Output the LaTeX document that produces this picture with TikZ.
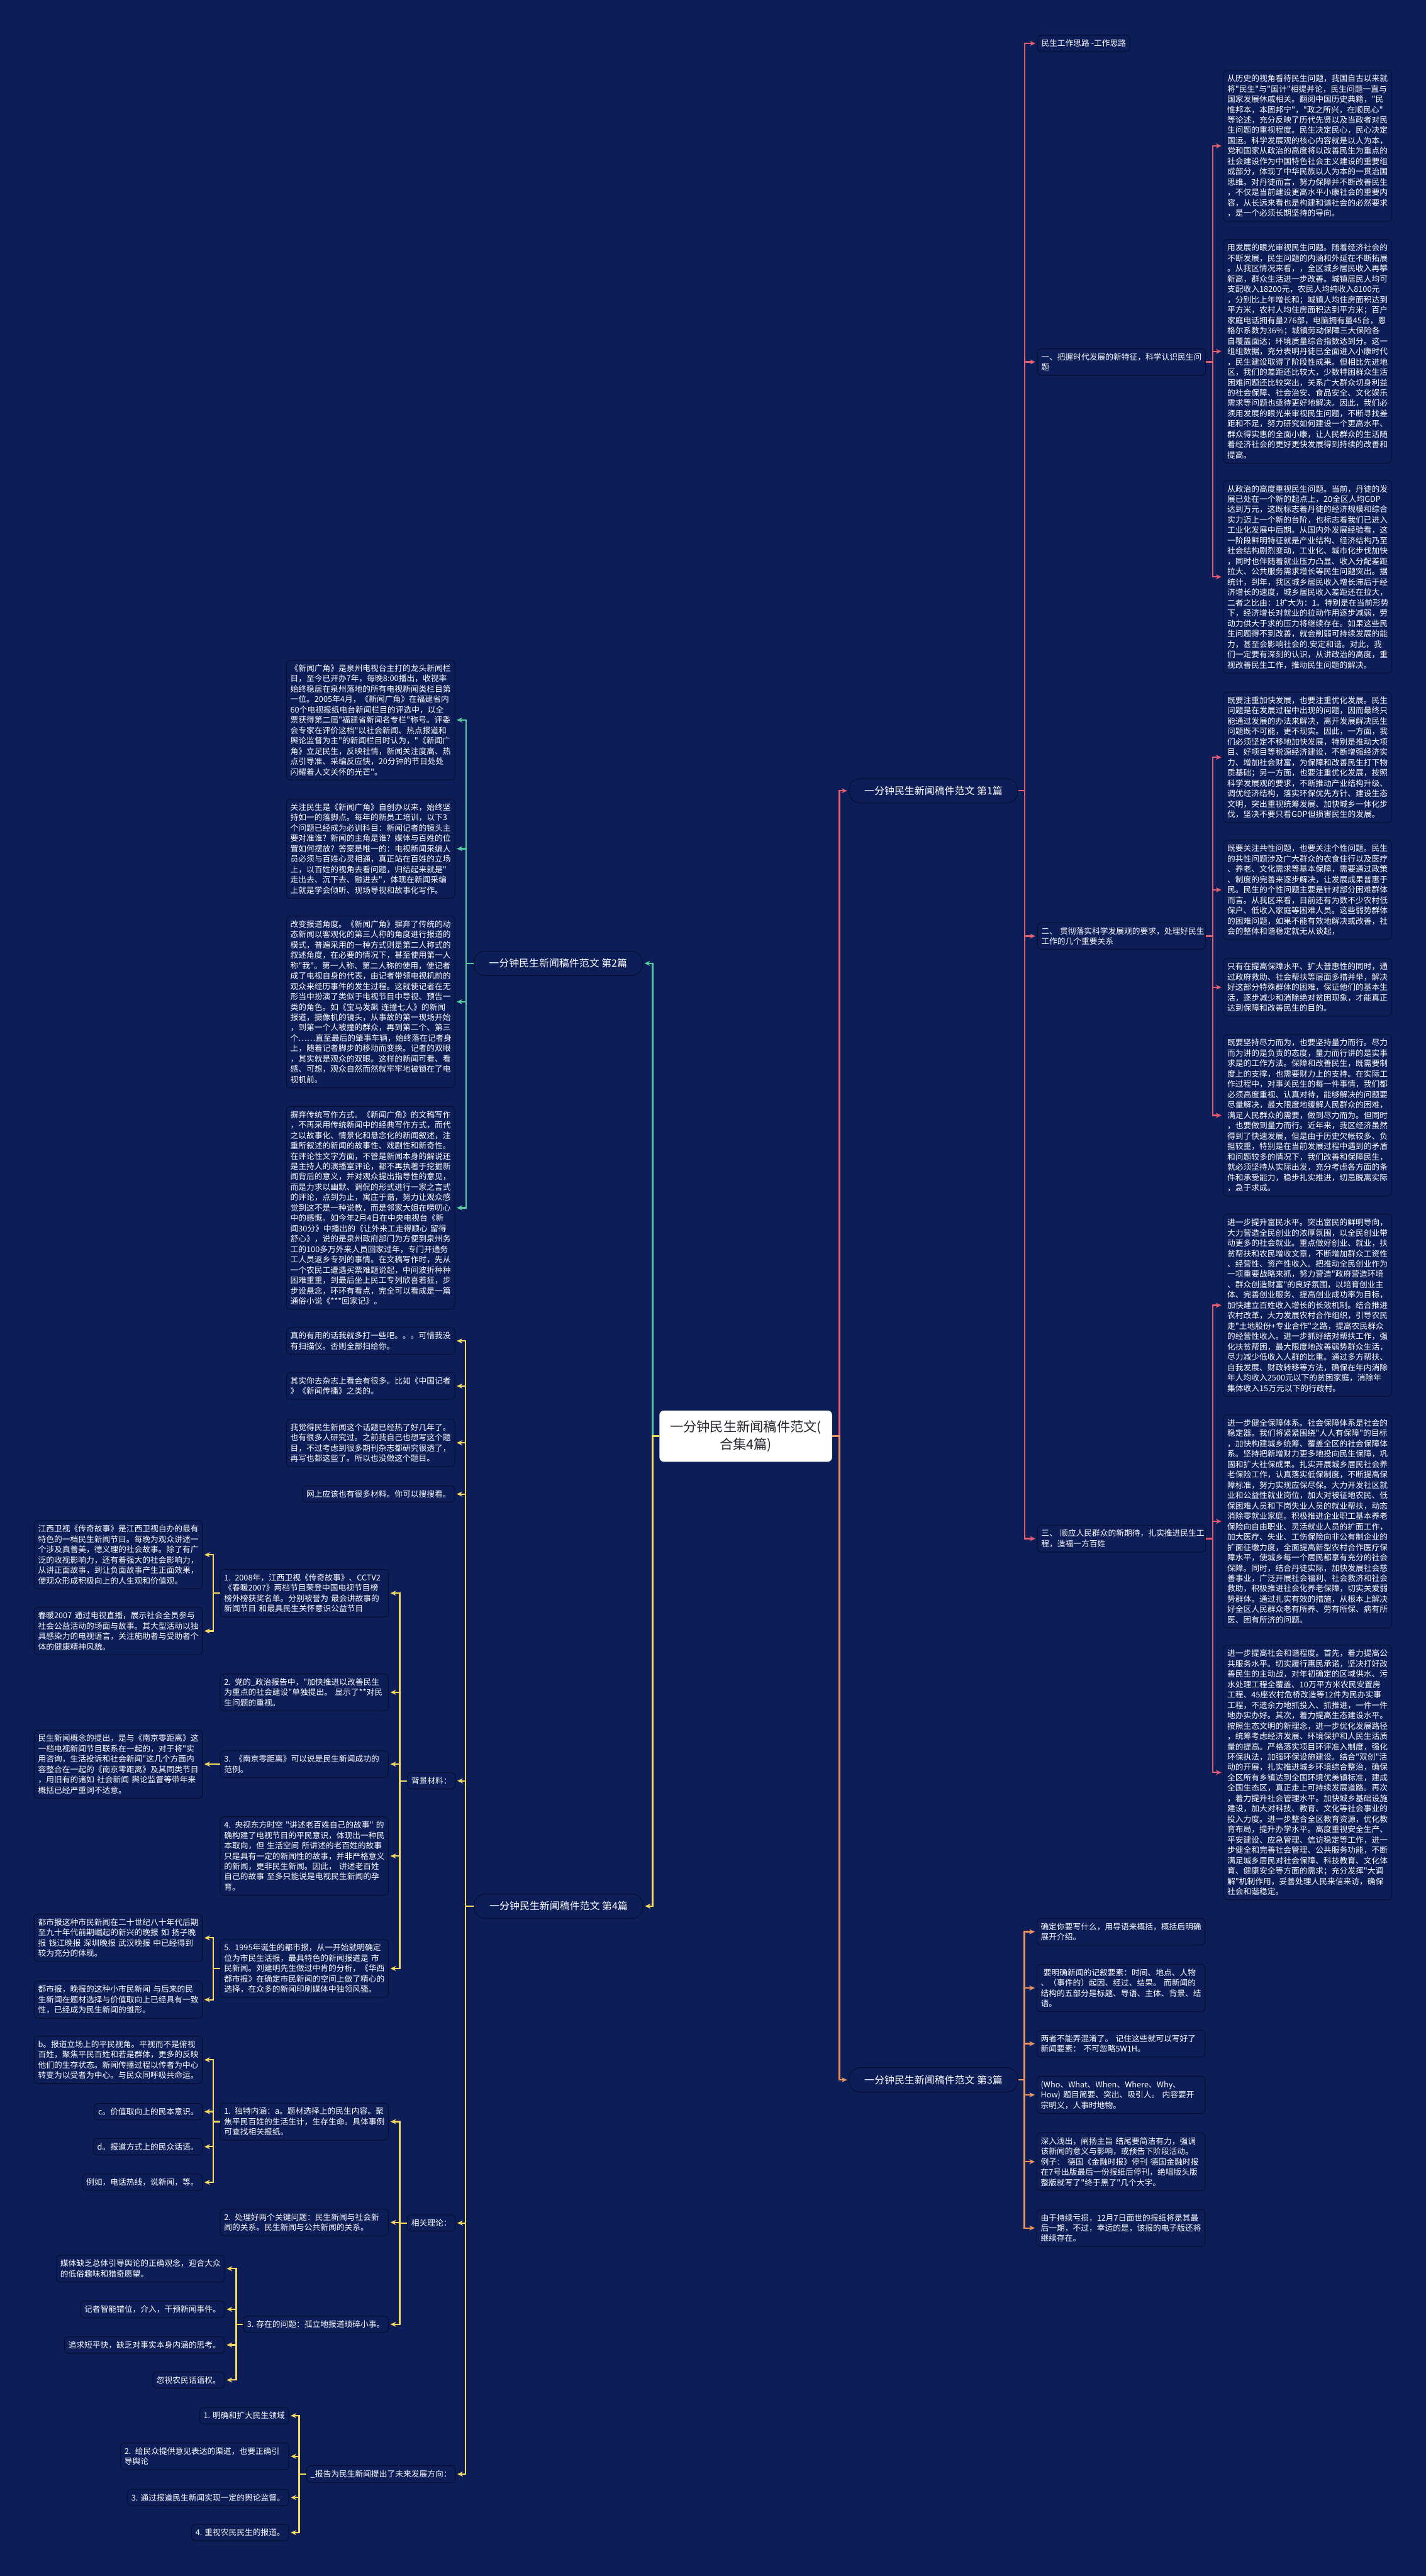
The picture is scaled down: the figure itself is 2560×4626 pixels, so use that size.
\documentclass[tikz,border=0pt]{standalone}
\usepackage{fontspec}
\usetikzlibrary{arrows.meta}
\newfontfamily\cnfont{Noto Sans CJK SC}
\definecolor{cBg}{RGB}{12,29,88}
\definecolor{cEdge}{RGB}{6,14,48}
\definecolor{cPink}{RGB}{229,92,110}
\definecolor{cOrange}{RGB}{236,148,92}
\definecolor{cTeal}{RGB}{86,206,160}
\definecolor{cYellow}{RGB}{246,218,96}
\definecolor{cHubText}{RGB}{40,40,48}

\begin{document}
\begin{tikzpicture}[x=1pt, y=-1pt,
  card/.style={draw=cEdge, line width=1.2pt, fill=cBg, rounded corners=7pt, text=white,
    font=\cnfont\fontsize{14.4}{18.6}\selectfont, inner xsep=7pt, inner ysep=8pt, align=left},
  txt/.style={card, text width=288pt},
  leaf/.style={card},
  topic/.style={card, rounded corners=20pt, font=\cnfont\fontsize{18}{22}\selectfont,
    minimum height=44pt, minimum width=303pt, inner xsep=20pt, align=center},
  hub/.style={fill=white, rounded corners=8pt, text=cHubText, font=\cnfont\fontsize{24}{32}\selectfont,
    align=center, minimum width=310pt, minimum height=92pt},
  link/.style={line width=2.5pt, -{Stealth[length=10pt,width=9pt]}, shorten >=3pt}]
\useasboundingbox (0,0) rectangle (2560,4626);
\fill[cBg] (0,0) rectangle (2560,4626);

\node[hub] (hub) at (1339,2579) {一分钟民生新闻稿件范文(\\合集4篇)};

\node[topic] (s1) at (1676,1420) {一分钟民生新闻稿件范文 第1篇};
\node[topic] (s2) at (1002,1730) {一分钟民生新闻稿件范文 第2篇};
\node[topic] (s3) at (1676,3735) {一分钟民生新闻稿件范文 第3篇};
\node[topic] (s4) at (1003,3423) {一分钟民生新闻稿件范文 第4篇};

\node[leaf, anchor=west] (t0) at (1862,78) {民生工作思路 -工作思路};
\node[txt, anchor=west] (t1) at (1862,650) {一、把握时代发展的新特征，科学认识民生问\\题};
\node[txt, anchor=west] (t2) at (1862,1681) {二、 贯彻落实科学发展观的要求，处理好民生\\工作的几个重要关系};
\node[txt, anchor=west] (t3) at (1862,2763) {三、 顺应人民群众的新期待，扎实推进民生工\\程，造福一方百姓};

\node[txt, anchor=west] (r1) at (2196,262) {从历史的视角看待民生问题，我国自古以来就\\将"民生"与"国计"相提并论，民生问题一直与\\国家发展休戚相关。翻阅中国历史典籍，"民\\惟邦本，本固邦宁"，"政之所兴，在顺民心"\\等论述，充分反映了历代先贤以及当政者对民\\生问题的重视程度。民生决定民心，民心决定\\国运。科学发展观的核心内容就是以人为本，\\党和国家从政治的高度将以改善民生为重点的\\社会建设作为中国特色社会主义建设的重要组\\成部分，体现了中华民族以人为本的一贯治国\\思维。对丹徒而言，努力保障并不断改善民生\\，不仅是当前建设更高水平小康社会的重要内\\容，从长远来看也是构建和谐社会的必然要求\\，是一个必须长期坚持的导向。};
\node[txt, anchor=west] (r2) at (2196,631) {用发展的眼光审视民生问题。随着经济社会的\\不断发展，民生问题的内涵和外延在不断拓展\\。从我区情况来看，，全区城乡居民收入再攀\\新高，群众生活进一步改善。城镇居民人均可\\支配收入18200元，农民人均纯收入8100元\\，分别比上年增长和；城镇人均住房面积达到\\平方米，农村人均住房面积达到平方米；百户\\家庭电话拥有量276部，电脑拥有量45台，恩\\格尔系数为36\%；城镇劳动保障三大保险各\\自覆盖面达；环境质量综合指数达到分。这一\\组组数据，充分表明丹徒已全面进入小康时代\\，民生建设取得了阶段性成果。但相比先进地\\区，我们的差距还比较大，少数特困群众生活\\困难问题还比较突出，关系广大群众切身利益\\的社会保障、社会治安、食品安全、文化娱乐\\需求等问题也亟待更好地解决。因此，我们必\\须用发展的眼光来审视民生问题，不断寻找差\\距和不足，努力研究如何建设一个更高水平、\\群众得实惠的全面小康，让人民群众的生活随\\着经济社会的更好更快发展得到持续的改善和\\提高。};
\node[txt, anchor=west] (r3) at (2196,1036) {从政治的高度重视民生问题。当前，丹徒的发\\展已处在一个新的起点上，20全区人均GDP\\达到万元，这既标志着丹徒的经济规模和综合\\实力迈上一个新的台阶，也标志着我们已进入\\工业化发展中后期。从国内外发展经验看，这\\一阶段鲜明特征就是产业结构、经济结构乃至\\社会结构剧烈变动，工业化、城市化步伐加快\\，同时也伴随着就业压力凸显、收入分配差距\\拉大、公共服务需求增长等民生问题突出。据\\统计，到年，我区城乡居民收入增长滞后于经\\济增长的速度，城乡居民收入差距还在拉大，\\二者之比由：1扩大为：1。特别是在当前形势\\下，经济增长对就业的拉动作用逐步减弱，劳\\动力供大于求的压力将继续存在。如果这些民\\生问题得不到改善，就会削弱可持续发展的能\\力，甚至会影响社会的.安定和谐。对此，我\\们一定要有深刻的认识，从讲政治的高度，重\\视改善民生工作，推动民生问题的解决。};
\node[txt, anchor=west] (r4) at (2196,1360) {既要注重加快发展，也要注重优化发展。民生\\问题是在发展过程中出现的问题，因而最终只\\能通过发展的办法来解决，离开发展解决民生\\问题既不可能，更不现实。因此，一方面，我\\们必须坚定不移地加快发展，特别是推动大项\\目、好项目等税源经济建设，不断增强经济实\\力、增加社会财富，为保障和改善民生打下物\\质基础；另一方面，也要注重优化发展，按照\\科学发展观的要求，不断推动产业结构升级、\\调优经济结构，落实环保优先方针、建设生态\\文明，突出重视统筹发展、加快城乡一体化步\\伐，坚决不要只看GDP但损害民生的发展。};
\node[txt, anchor=west] (r5) at (2196,1598) {既要关注共性问题，也要关注个性问题。民生\\的共性问题涉及广大群众的衣食住行以及医疗\\、养老、文化需求等基本保障，需要通过政策\\、制度的完善来逐步解决，让发展成果普惠于\\民。民生的个性问题主要是针对部分困难群体\\而言。从我区来看，目前还有为数不少农村低\\保户、低收入家庭等困难人员。这些弱势群体\\的困难问题，如果不能有效地解决或改善，社\\会的整体和谐稳定就无从谈起，};
\node[txt, anchor=west] (r6) at (2196,1773) {只有在提高保障水平、扩大普惠性的同时，通\\过政府救助、社会帮扶等层面多措并举，解决\\好这部分特殊群体的困难，保证他们的基本生\\活，逐步减少和消除绝对贫困现象，才能真正\\达到保障和改善民生的目的。};
\node[txt, anchor=west] (r7) at (2196,2003) {既要坚持尽力而为，也要坚持量力而行。尽力\\而为讲的是负责的态度，量力而行讲的是实事\\求是的工作方法。保障和改善民生，既需要制\\度上的支撑，也需要财力上的支持。在实际工\\作过程中，对事关民生的每一件事情，我们都\\必须高度重视、认真对待，能够解决的问题要\\尽量解决，最大限度地缓解人民群众的困难，\\满足人民群众的需要，做到尽力而为。但同时\\，也要做到量力而行。近年来，我区经济虽然\\得到了快速发展，但是由于历史欠帐较多、负\\担较重，特别是在当前发展过程中遇到的矛盾\\和问题较多的情况下，我们改善和保障民生，\\就必须坚持从实际出发，充分考虑各方面的条\\件和承受能力，稳步扎实推进，切忌脱离实际\\，急于求成。};
\node[txt, anchor=west] (r8) at (2196,2344) {进一步提升富民水平。突出富民的鲜明导向，\\大力营造全民创业的浓厚氛围，以全民创业带\\动更多的社会就业。重点做好创业、就业，扶\\贫帮扶和农民增收文章，不断增加群众工资性\\、经营性、资产性收入。把推动全民创业作为\\一项重要战略来抓，努力营造"政府营造环境\\、群众创造财富"的良好氛围，以培育创业主\\体、完善创业服务、提高创业成功率为目标，\\加快建立百姓收入增长的长效机制。结合推进\\农村改革，大力发展农村合作组织，引导农民\\走"土地股份+专业合作"之路，提高农民群众\\的经营性收入。进一步抓好结对帮扶工作，强\\化扶贫帮困，最大限度地改善弱势群众生活，\\尽力减少低收入人群的比重。通过多方帮扶、\\自我发展、财政转移等方法，确保在年内消除\\年人均收入2500元以下的贫困家庭，消除年\\集体收入15万元以下的行政村。};
\node[txt, anchor=west] (r9) at (2196,2732) {进一步健全保障体系。社会保障体系是社会的\\稳定器。我们将紧紧围绕"人人有保障"的目标\\，加快构建城乡统筹、覆盖全区的社会保障体\\系。坚持把新增财力更多地投向民生保障，巩\\固和扩大社保成果。扎实开展城乡居民社会养\\老保险工作，认真落实低保制度，不断提高保\\障标准，努力实现应保尽保。大力开发社区就\\业和公益性就业岗位，加大对被征地农民、低\\保困难人员和下岗失业人员的就业帮扶，动态\\消除零就业家庭。积极推进企业职工基本养老\\保险向自由职业、灵活就业人员的扩面工作，\\加大医疗、失业、工伤保险向非公有制企业的\\扩面征缴力度，全面提高新型农村合作医疗保\\障水平，使城乡每一个居民都享有充分的社会\\保障。同时，结合丹徒实际，加快发展社会慈\\善事业，广泛开展社会福利、社会救济和社会\\救助，积极推进社会化养老保障，切实关爱弱\\势群体。通过扎实有效的措施，从根本上解决\\好全区人民群众老有所养、劳有所保、病有所\\医、困有所济的问题。};
\node[txt, anchor=west] (r10) at (2196,3183) {进一步提高社会和谐程度。首先，着力提高公\\共服务水平。切实履行惠民承诺，坚决打好改\\善民生的主动战，对年初确定的区域供水、污\\水处理工程全覆盖、10万平方米农民安置房\\工程、45座农村危桥改造等12件为民办实事\\工程，不遗余力地抓投入、抓推进，一件一件\\地办实办好。其次，着力提高生态建设水平。\\按照生态文明的新理念，进一步优化发展路径\\，统筹考虑经济发展、环境保护和人民生活质\\量的提高。严格落实项目环评准入制度，强化\\环保执法，加强环保设施建设。结合"双创"活\\动的开展，扎实推进城乡环境综合整治，确保\\全区所有乡镇达到全国环境优美镇标准，建成\\全国生态区，真正走上可持续发展道路。再次\\，着力提升社会管理水平。加快城乡基础设施\\建设，加大对科技、教育、文化等社会事业的\\投入力度。进一步整合全区教育资源，优化教\\育布局，提升办学水平。高度重视安全生产、\\平安建设、应急管理、信访稳定等工作，进一\\步健全和完善社会管理、公共服务功能，不断\\满足城乡居民对社会保障、科技教育、文化体\\育、健康安全等方面的需求；充分发挥"大调\\解"机制作用，妥善处理人民来信来访，确保\\社会和谐稳定。};

\node[txt, anchor=west] (u1) at (1861,3469) {确定你要写什么，用导语来概括，概括后明确\\展开介绍。};
\node[txt, anchor=west] (u2) at (1861,3570) {\ 要明确新闻的记叙要素：时间、地点、人物\\、（事件的）起因、经过、结果。 而新闻的\\结构的五部分是标题、导语、主体、背景、结\\语。};
\node[txt, anchor=west] (u3) at (1861,3670) {两者不能弄混淆了。 记住这些就可以写好了\\新闻要素： 不可忽略5W1H。};
\node[txt, anchor=west] (u4) at (1861,3762) {(Who、What、When、Where、Why、\\How) 题目简要、突出、吸引人。 内容要开\\宗明义，人事时地物。};
\node[txt, anchor=west] (u5) at (1861,3882) {深入浅出，阐扬主旨 结尾要简洁有力，强调\\该新闻的意义与影响，或预告下阶段活动。\\例子： 德国《金融时报》停刊 德国金融时报\\在7号出版最后一份报纸后停刊，绝唱版头版\\整版就写了"终于黑了"几个大字。};
\node[txt, anchor=west] (u6) at (1861,4001) {由于持续亏损，12月7日面世的报纸将是其最\\后一期，不过，幸运的是，该报的电子版还将\\继续存在。};

\node[txt, anchor=east] (a1) at (817,1293) {《新闻广角》是泉州电视台主打的龙头新闻栏\\目，至今已开办7年，每晚8:00播出，收视率\\始终稳居在泉州落地的所有电视新闻类栏目第\\一位。2005年4月，《新闻广角》在福建省内\\60个电视报纸电台新闻栏目的评选中，以全\\票获得第二届"福建省新闻名专栏"称号。评委\\会专家在评价这档"以社会新闻、热点报道和\\舆论监督为主"的新闻栏目时认为，"《新闻广\\角》立足民生，反映社情，新闻关注度高、热\\点引导准、采编反应快，20分钟的节目处处\\闪耀着人文关怀的光芒"。};
\node[txt, anchor=east] (a2) at (817,1524) {关注民生是《新闻广角》自创办以来，始终坚\\持如一的落脚点。每年的新员工培训，以下3\\个问题已经成为必训科目：新闻记者的镜头主\\要对准谁？新闻的主角是谁？媒体与百姓的位\\置如何摆放？答案是唯一的：电视新闻采编人\\员必须与百姓心灵相通，真正站在百姓的立场\\上，以百姓的视角去看问题，归结起来就是"\\走出去、沉下去、融进去"，体现在新闻采编\\上就是学会倾听、现场导视和故事化写作。};
\node[txt, anchor=east] (a3) at (817,1799) {改变报道角度。《新闻广角》摒弃了传统的动\\态新闻以客观化的第三人称的角度进行报道的\\模式，普遍采用的一种方式则是第二人称式的\\叙述角度，在必要的情况下，甚至使用第一人\\称"我"。第一人称、第二人称的使用，使记者\\成了电视自身的代表，由记者带领电视机前的\\观众来经历事件的发生过程。这就使记者在无\\形当中扮演了类似于电视节目中导视、预告一\\类的角色。如《宝马发飙 连撞七人》的新闻\\报道，摄像机的镜头，从事故的第一现场开始\\，到第一个人被撞的群众，再到第二个、第三\\个……直至最后的肇事车辆，始终落在记者身\\上，随着记者脚步的移动而变换。记者的双眼\\，其实就是观众的双眼。这样的新闻可看、看\\感、可想，观众自然而然就牢牢地被锁在了电\\视机前。};
\node[txt, anchor=east] (a4) at (817,2169) {摒弃传统写作方式。《新闻广角》的文稿写作\\，不再采用传统新闻中的经典写作方式，而代\\之以故事化、情景化和悬念化的新闻叙述，注\\重所叙述的新闻的故事性、戏剧性和新奇性。\\在评论性文字方面，不管是新闻本身的解说还\\是主持人的演播室评论，都不再执著于挖掘新\\闻背后的意义，并对观众提出指导性的意见，\\而是力求以幽默、调侃的形式进行一家之言式\\的评论，点到为止，寓庄于谐，努力让观众感\\觉到这不是一种说教，而是邻家大姐在唠叨心\\中的感慨。如今年2月4日在中央电视台《新\\闻30分》中播出的《让外来工走得顺心 留得\\舒心》，说的是泉州政府部门为方便到泉州务\\工的100多万外来人员回家过年，专门开通务\\工人员返乡专列的事情。在文稿写作时，先从\\一个农民工遭遇买票难题说起，中间波折种种\\困难重重，到最后坐上民工专列欣喜若狂，步\\步设悬念，环环有看点，完全可以看成是一篇\\通俗小说《***回家记》。};

\node[txt, anchor=east] (q1) at (817,2408) {真的有用的话我就多打一些吧。。。可惜我没\\有扫描仪。否则全部扫给你。};
\node[txt, anchor=east] (q2) at (817,2489) {其实你去杂志上看会有很多。比如《中国记者\\》《新闻传播》之类的。};
\node[txt, anchor=east] (q3) at (817,2591) {我觉得民生新闻这个话题已经热了好几年了。\\也有很多人研究过。之前我自己也想写这个题\\目，不过考虑到很多期刊杂志都研究很透了，\\再写也都这些了。所以也没做这个题目。};
\node[leaf, anchor=east] (q4) at (817,2683) {网上应该也有很多材料。你可以搜搜看。};
\node[leaf, anchor=east] (q5) at (818,3198) {背景材料：};
\node[leaf, anchor=east] (q6) at (818,3992) {相关理论：};
\node[leaf, anchor=east] (q7) at (818,4443) {\_报告为民生新闻提出了未来发展方向：};

\node[txt, anchor=east] (g1) at (698,2861) {1. 2008年，江西卫视《传奇故事》、CCTV2\\《春暖2007》两档节目荣登中国电视节目榜\\榜外榜获奖名单。分别被誉为 最会讲故事的\\新闻节目 和最具民生关怀意识公益节目};
\node[txt, anchor=east] (g2) at (698,3039) {2. 党的\_政治报告中，"加快推进以改善民生\\为重点的社会建设"单独提出。 显示了**对民\\生问题的重视。};
\node[txt, anchor=east] (g3) at (698,3168) {3. 《南京零距离》可以说是民生新闻成功的\\范例。};
\node[txt, anchor=east] (g4) at (698,3333) {4. 央视东方时空 "讲述老百姓自己的故事" 的\\确构建了电视节目的平民意识，体现出一种民\\本取向，但 生活空间 所讲述的老百姓的故事\\只是具有一定的新闻性的故事，并非严格意义\\的新闻，更非民生新闻。因此， 讲述老百姓\\自己的故事 至多只能说是电视民生新闻的孕\\育。};
\node[txt, anchor=east] (g5) at (698,3535) {5. 1995年诞生的都市报，从一开始就明确定\\位为市民生活报，最具特色的新闻报道是 市\\民新闻。刘建明先生做过中肯的分析，《华西\\都市报》在确定市民新闻的空间上做了精心的\\选择，在众多的新闻印刷媒体中独领风骚。};

\node[txt, anchor=east] (h1) at (364,2792) {江西卫视《传奇故事》是江西卫视自办的最有\\特色的一档民生新闻节目。每晚为观众讲述一\\个涉及真善美，德义理的社会故事。除了有广\\泛的收视影响力，还有着强大的社会影响力，\\从讲正面故事，到让负面故事产生正面效果，\\使观众形成积极向上的人生观和价值观。};
\node[txt, anchor=east] (h2) at (364,2929) {春暖2007 通过电视直播，展示社会全员参与\\社会公益活动的场面与故事。其大型活动以独\\具感染力的电视语言，关注施助者与受助者个\\体的健康精神风貌。};
\node[txt, anchor=east] (h3) at (364,3168) {民生新闻概念的提出，是与《南京零距离》这\\一档电视新闻节目联系在一起的，对于将"实\\用咨询，生活投诉和社会新闻"这几个方面内\\容整合在一起的《南京零距离》及其同类节目\\，用旧有的诸如 社会新闻 舆论监督等带年来\\概括已经严重词不达意。};
\node[txt, anchor=east] (h4) at (364,3480) {都市报这种市民新闻在二十世纪八十年代后期\\至九十年代前期崛起的新兴的晚报 如 扬子晚\\报 钱江晚报 深圳晚报 武汉晚报 中已经得到\\较为充分的体现。};
\node[txt, anchor=east] (h5) at (364,3591) {都市报，晚报的这种小市民新闻 与后来的民\\生新闻在题材选择与价值取向上已经具有一致\\性，已经成为民生新闻的雏形。};

\node[txt, anchor=east] (k1) at (698,3810) {1. 独特内涵：a。题材选择上的民生内容。聚\\焦平民百姓的生活生计，生存生命。具体事例\\可查找相关报纸。};
\node[txt, anchor=east] (k2) at (698,3991) {2. 处理好两个关键问题：民生新闻与社会新\\闻的关系。民生新闻与公共新闻的关系。};
\node[leaf, anchor=east] (k3) at (698,4174) {3. 存在的问题：孤立地报道琐碎小事。};

\node[txt, anchor=east] (m1) at (364,3699) {b。报道立场上的平民视角。平视而不是俯视\\百姓，聚焦平民百姓和若是群体，更多的反映\\他们的生存状态。新闻传播过程以传者为中心\\转变为以受者为中心。与民众同呼吸共命运。};
\node[leaf, anchor=east] (m2) at (364,3792) {c。价值取向上的民本意识。};
\node[leaf, anchor=east] (m3) at (364,3855) {d。报道方式上的民众话语。};
\node[leaf, anchor=east] (m4) at (364,3919) {例如，电话热线，说新闻，等。};

\node[txt, anchor=east] (n1) at (404,4074) {媒体缺乏总体引导舆论的正确观念，迎合大众\\的低俗趣味和猎奇愿望。};
\node[leaf, anchor=east] (n2) at (404,4147) {记者智能错位，介入，干预新闻事件。};
\node[leaf, anchor=east] (n3) at (404,4211) {追求短平快，缺乏对事实本身内涵的思考。};
\node[leaf, anchor=east] (n4) at (404,4274) {忽视农民话语权。};

\node[leaf, anchor=east] (w1) at (519,4338) {1. 明确和扩大民生领域};
\node[txt, anchor=east] (w2) at (519,4411) {2. 给民众提供意见表达的渠道，也要正确引\\导舆论};
\node[leaf, anchor=east] (w3) at (519,4485) {3. 通过报道民生新闻实现一定的舆论监督。};
\node[leaf, anchor=east] (w4) at (519,4548) {4. 重视农民民生的报道。};

\draw[link, cPink] (hub.east) -- ++(13,0) |- (s1.west);
\draw[link, cOrange] (hub.east) -- ++(13,0) |- (s3.west);
\draw[link, cTeal] (hub.west) -- ++(-12,0) |- (s2.east);
\draw[link, cYellow] (hub.west) -- ++(-12,0) |- (s4.east);

\draw[link, cPink] (s1.east) -- ++(12,0) |- (t0.west);
\draw[link, cPink] (s1.east) -- ++(12,0) |- (t1.west);
\draw[link, cPink] (s1.east) -- ++(12,0) |- (t2.west);
\draw[link, cPink] (s1.east) -- ++(12,0) |- (t3.west);
\draw[link, cPink] (t1.east) -- ++(12,0) |- (r1.west);
\draw[link, cPink] (t1.east) -- ++(12,0) |- (r2.west);
\draw[link, cPink] (t1.east) -- ++(12,0) |- (r3.west);
\draw[link, cPink] (t2.east) -- ++(12,0) |- (r4.west);
\draw[link, cPink] (t2.east) -- ++(12,0) |- (r5.west);
\draw[link, cPink] (t2.east) -- ++(12,0) |- (r6.west);
\draw[link, cPink] (t2.east) -- ++(12,0) |- (r7.west);
\draw[link, cPink] (t3.east) -- ++(12,0) |- (r8.west);
\draw[link, cPink] (t3.east) -- ++(12,0) |- (r9.west);
\draw[link, cPink] (t3.east) -- ++(12,0) |- (r10.west);

\draw[link, cOrange] (s3.east) -- ++(11,0) |- (u1.west);
\draw[link, cOrange] (s3.east) -- ++(11,0) |- (u2.west);
\draw[link, cOrange] (s3.east) -- ++(11,0) |- (u3.west);
\draw[link, cOrange] (s3.east) -- ++(11,0) |- (u4.west);
\draw[link, cOrange] (s3.east) -- ++(11,0) |- (u5.west);
\draw[link, cOrange] (s3.east) -- ++(11,0) |- (u6.west);

\draw[link, cTeal] (s2.west) -- ++(-13,0) |- (a1.east);
\draw[link, cTeal] (s2.west) -- ++(-13,0) |- (a2.east);
\draw[link, cTeal] (s2.west) -- ++(-13,0) |- (a3.east);
\draw[link, cTeal] (s2.west) -- ++(-13,0) |- (a4.east);

\draw[link, cYellow] (s4.west) -- ++(-15,0) |- (q1.east);
\draw[link, cYellow] (s4.west) -- ++(-15,0) |- (q2.east);
\draw[link, cYellow] (s4.west) -- ++(-15,0) |- (q3.east);
\draw[link, cYellow] (s4.west) -- ++(-15,0) |- (q4.east);
\draw[link, cYellow] (s4.west) -- ++(-15,0) |- (q5.east);
\draw[link, cYellow] (s4.west) -- ++(-15,0) |- (q6.east);
\draw[link, cYellow] (s4.west) -- ++(-15,0) |- (q7.east);
\draw[link, cYellow] (q5.west) -- ++(-13,0) |- (g1.east);
\draw[link, cYellow] (q5.west) -- ++(-13,0) |- (g2.east);
\draw[link, cYellow] (q5.west) -- ++(-13,0) |- (g3.east);
\draw[link, cYellow] (q5.west) -- ++(-13,0) |- (g4.east);
\draw[link, cYellow] (q5.west) -- ++(-13,0) |- (g5.east);
\draw[link, cYellow] (g1.west) -- ++(-12,0) |- (h1.east);
\draw[link, cYellow] (g1.west) -- ++(-12,0) |- (h2.east);
\draw[link, cYellow] (g3.west) -- ++(-12,0) |- (h3.east);
\draw[link, cYellow] (g5.west) -- ++(-12,0) |- (h4.east);
\draw[link, cYellow] (g5.west) -- ++(-12,0) |- (h5.east);
\draw[link, cYellow] (q6.west) -- ++(-13,0) |- (k1.east);
\draw[link, cYellow] (q6.west) -- ++(-13,0) |- (k2.east);
\draw[link, cYellow] (q6.west) -- ++(-13,0) |- (k3.east);
\draw[link, cYellow] (k1.west) -- ++(-12,0) |- (m1.east);
\draw[link, cYellow] (k1.west) -- ++(-12,0) |- (m2.east);
\draw[link, cYellow] (k1.west) -- ++(-12,0) |- (m3.east);
\draw[link, cYellow] (k1.west) -- ++(-12,0) |- (m4.east);
\draw[link, cYellow] (k3.west) -- ++(-12,0) |- (n1.east);
\draw[link, cYellow] (k3.west) -- ++(-12,0) |- (n2.east);
\draw[link, cYellow] (k3.west) -- ++(-12,0) |- (n3.east);
\draw[link, cYellow] (k3.west) -- ++(-12,0) |- (n4.east);
\draw[link, cYellow] (q7.west) -- ++(-13,0) |- (w1.east);
\draw[link, cYellow] (q7.west) -- ++(-13,0) |- (w2.east);
\draw[link, cYellow] (q7.west) -- ++(-13,0) |- (w3.east);
\draw[link, cYellow] (q7.west) -- ++(-13,0) |- (w4.east);
\end{tikzpicture}
\end{document}
